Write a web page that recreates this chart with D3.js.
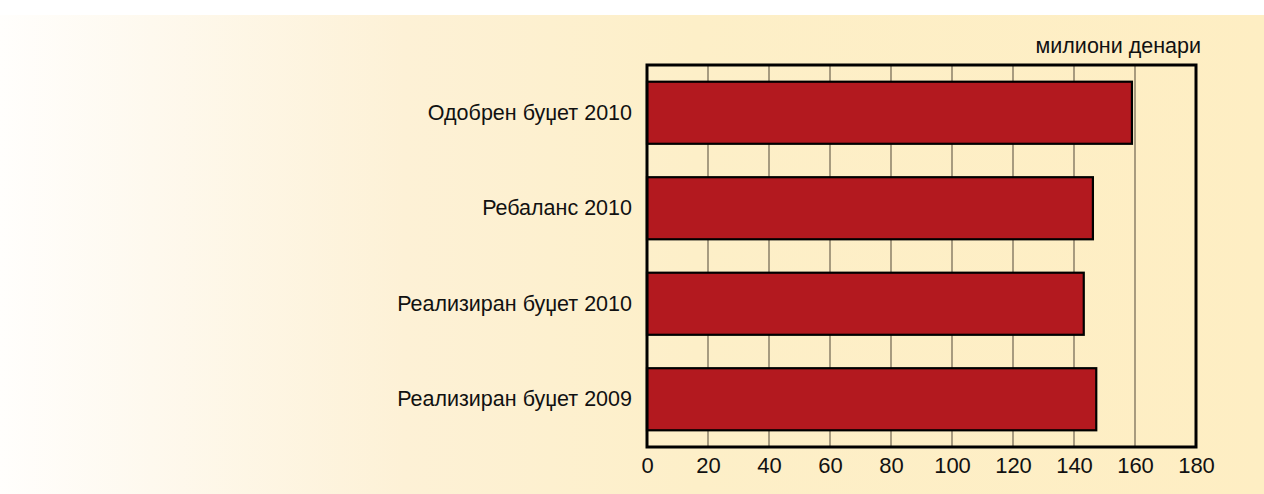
<!DOCTYPE html>
<html lang="mk">
  <head>
    <meta charset="UTF-8">
    <title>Буџет</title>
    <style>
      body { margin: 0; background: #fff; }
      svg { display: block; }
      text { font-family: "Liberation Sans", Arial, sans-serif; fill: #111; }
    </style>
    <script src="https://d3js.org/d3.v7.min.js"></script>
  </head>
  <body>
    <script>
      var categories = ["Одобрен буџет 2010", "Ребаланс 2010", "Реализиран буџет 2010", "Реализиран буџет 2009"];
      var values = [159, 146.2, 143.2, 147.3];
      var tickValues = [0, 20, 40, 60, 80, 100, 120, 140, 160, 180];
      var unitLabel = "милиони денари";

      var width = 1264, height = 494;
      // note: "top" is reserved on window, so use plot* names
      var plotLeft = 647, plotRight = 1196, plotTop = 65, plotBottom = 447;
      var fontSize = 21.5;

      var svg = d3.select("body").append("svg")
        .attr("width", width)
        .attr("height", height);

      var grad = svg.append("defs").append("linearGradient")
        .attr("id", "bg").attr("x1", 0).attr("x2", 1).attr("y1", 0).attr("y2", 0);
      grad.append("stop").attr("offset", 0).attr("stop-color", "#fffefc");
      grad.append("stop").attr("offset", 0.12).attr("stop-color", "#fef9ee");
      grad.append("stop").attr("offset", 0.32).attr("stop-color", "#fdf1d6");
      grad.append("stop").attr("offset", 0.55).attr("stop-color", "#fdefc8");
      grad.append("stop").attr("offset", 1).attr("stop-color", "#feeec3");

      svg.append("rect").attr("x", 0).attr("y", 15)
        .attr("width", width).attr("height", height - 15)
        .attr("fill", "url(#bg)");

      var x = d3.scaleLinear().domain([0, 180]).range([plotLeft, plotRight]);
      var y = d3.scaleBand().domain(categories).range([plotTop, plotBottom])
        .paddingInner(0.35).paddingOuter(0.175);

      // gridlines
      svg.append("g").selectAll("line")
        .data(tickValues.slice(1, -1))
        .join("line")
        .attr("x1", function (d) { return x(d); })
        .attr("x2", function (d) { return x(d); })
        .attr("y1", plotTop).attr("y2", plotBottom)
        .attr("stroke", "#6e6350").attr("stroke-width", 1.2);

      // bars
      svg.append("g").selectAll("rect")
        .data(values)
        .join("rect")
        .attr("x", x(0))
        .attr("y", function (d, i) { return y(categories[i]); })
        .attr("width", function (d) { return x(d) - x(0); })
        .attr("height", y.bandwidth())
        .attr("fill", "#b3191f")
        .attr("stroke", "#000")
        .attr("stroke-width", 2.2);

      // frame
      svg.append("rect")
        .attr("x", plotLeft).attr("y", plotTop)
        .attr("width", plotRight - plotLeft).attr("height", plotBottom - plotTop)
        .attr("fill", "none").attr("stroke", "#000").attr("stroke-width", 3);

      // x axis
      var xAxis = d3.axisBottom(x).tickValues(tickValues).tickSize(0).tickPadding(10);
      var gx = svg.append("g").attr("transform", "translate(0," + plotBottom + ")").call(xAxis);
      gx.select(".domain").remove();
      gx.selectAll("text").attr("font-size", 22).style("font-family", "Liberation Sans, Arial, sans-serif").attr("fill", "#111");

      // category labels
      var yAxis = d3.axisLeft(y).tickSize(0).tickPadding(15);
      var gy = svg.append("g").attr("transform", "translate(" + plotLeft + ",0)").call(yAxis);
      gy.select(".domain").remove();
      gy.selectAll("text").attr("font-size", fontSize).style("font-family", "Liberation Sans, Arial, sans-serif").attr("fill", "#111");

      svg.append("text")
        .attr("x", 1201).attr("y", 53)
        .attr("text-anchor", "end")
        .attr("font-size", fontSize)
        .text(unitLabel);
    </script>
  </body>
</html>
